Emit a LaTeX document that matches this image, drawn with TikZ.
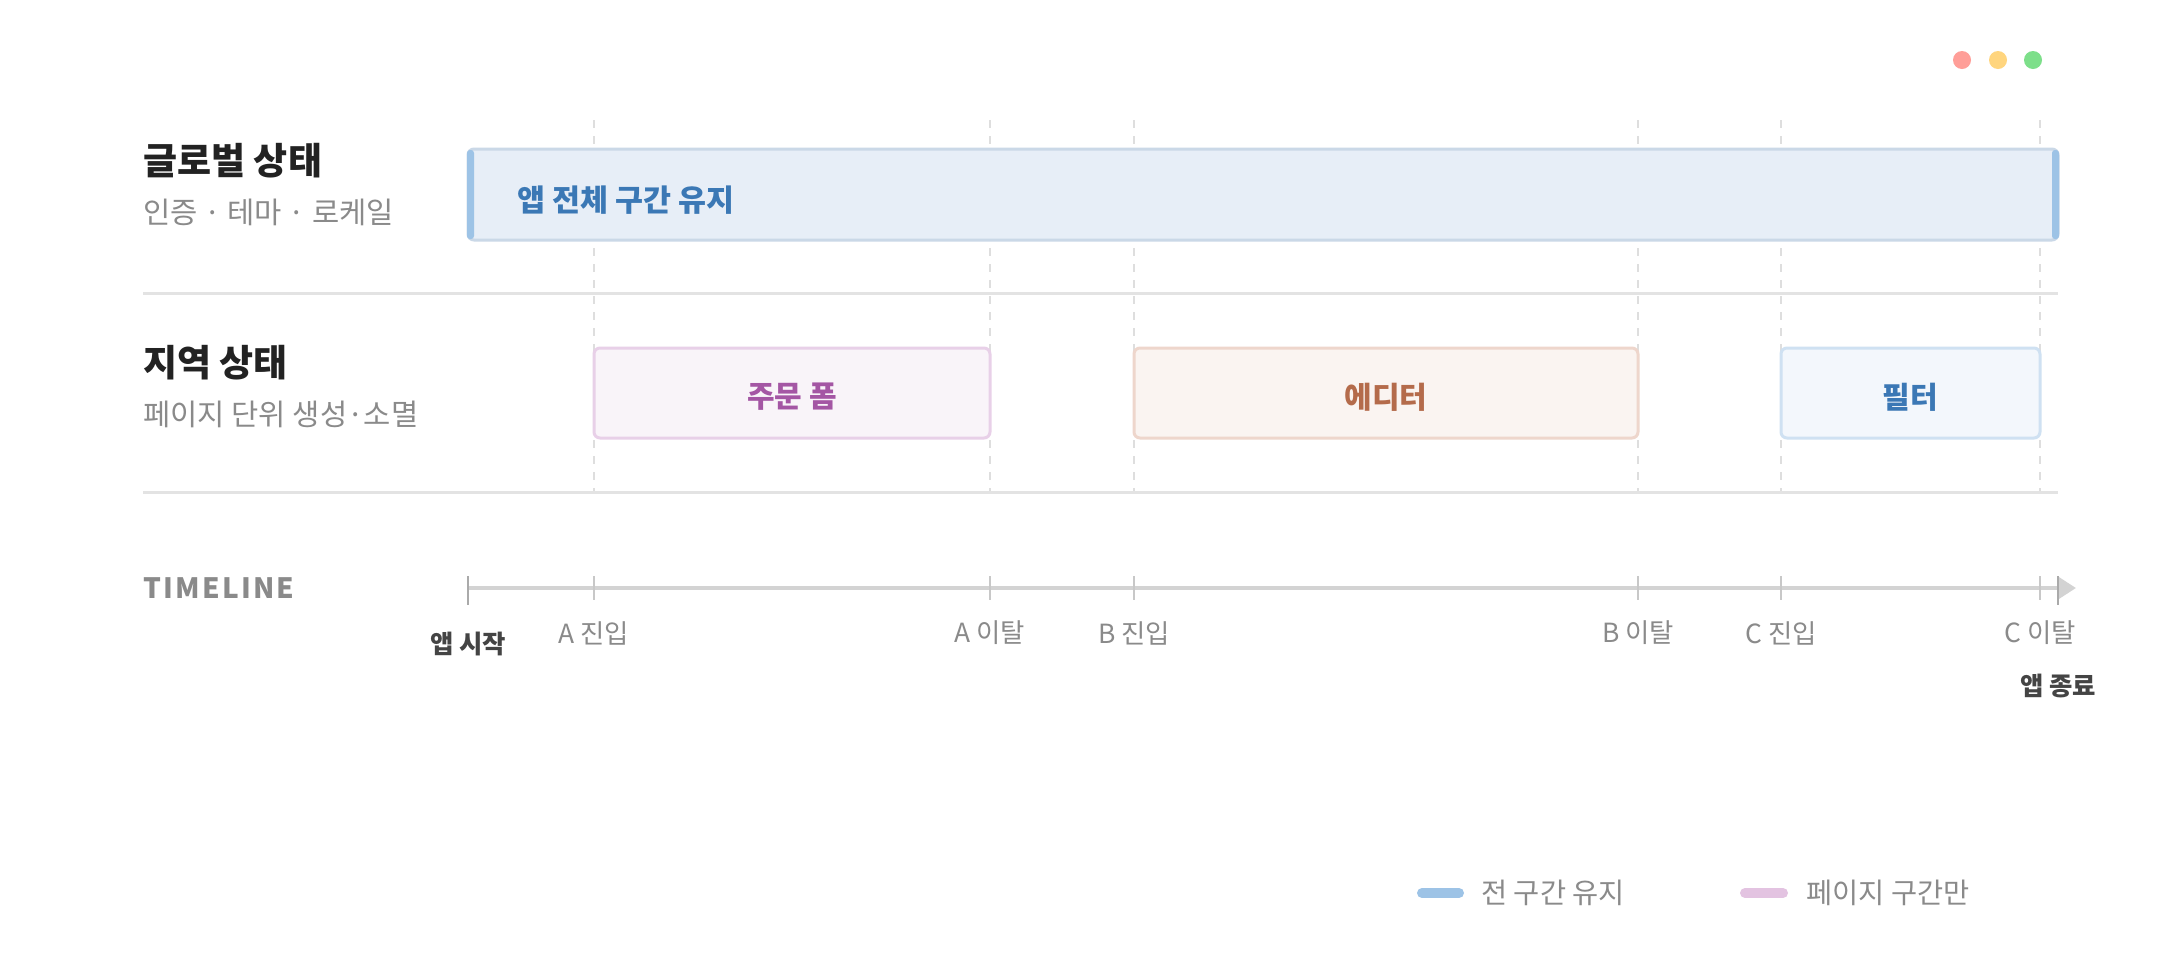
\documentclass[tikz,border=0pt]{standalone}
\usepackage{fontspec}
\setmainfont{Noto Sans CJK KR}
\usetikzlibrary{arrows.meta}
\definecolor{titlec}{HTML}{222222}
\definecolor{subc}{HTML}{8A8A8A}
\definecolor{gfill}{HTML}{E7EEF7}
\definecolor{gborder}{HTML}{CAD8E7}
\definecolor{gaccent}{HTML}{9DC3E6}
\definecolor{gtext}{HTML}{3B78B5}
\definecolor{sepc}{HTML}{E3E3E3}
\definecolor{dashc}{HTML}{DEDEDE}
\definecolor{pfill}{HTML}{F9F4F9}
\definecolor{pborder}{HTML}{E8D0E8}
\definecolor{ptext}{HTML}{A456A4}
\definecolor{efill}{HTML}{FAF4F1}
\definecolor{eborder}{HTML}{EED6CC}
\definecolor{etext}{HTML}{B46B4B}
\definecolor{ffill}{HTML}{F3F7FC}
\definecolor{fborder}{HTML}{CFE1F2}
\definecolor{axisc}{HTML}{D3D3D3}
\definecolor{tickc}{HTML}{C8C8C8}
\definecolor{endtickc}{HTML}{AAAAAA}
\definecolor{darklbl}{HTML}{444444}
\definecolor{dotr}{HTML}{FF9E98}
\definecolor{doty}{HTML}{FFD57E}
\definecolor{dotg}{HTML}{7DDF8A}
\definecolor{legpink}{HTML}{E3C3E1}
\begin{document}
\begin{tikzpicture}[x=0.5pt,y=-0.5pt,
  dot/.style={circle,inner sep=0pt,minimum size=9pt},
  rowtitle/.style={anchor=west,inner sep=0pt,text=titlec,font=\fontsize{18.5pt}{21pt}\selectfont\bfseries},
  rowsub/.style={anchor=west,inner sep=0pt,text=subc,font=\fontsize{14.8pt}{17pt}\selectfont},
  sepline/.style={draw=sepc,line width=1.5pt},
  guide/.style={draw=dashc,line width=1.3pt,dash pattern=on 4pt off 4pt},
  spanbox/.style={rectangle,rounded corners=3pt,line width=1.5pt,inner sep=0pt,
    font=\fontsize{15pt}{17pt}\selectfont\bfseries},
  boxtext/.style={inner sep=0pt,font=\fontsize{15pt}{17pt}\selectfont\bfseries},
  ticklbl/.style={inner sep=0pt,text=subc,font=\fontsize{13.2pt}{15pt}\selectfont},
  endlbl/.style={inner sep=0pt,text=darklbl,font=\fontsize{12.7pt}{15pt}\selectfont\bfseries},
  tickmark/.style={draw=tickc,line width=1pt},
  endtick/.style={draw=endtickc,line width=1.2pt},
  legbar/.style={line width=5pt,line cap=round},
  leglbl/.style={anchor=west,inner sep=0pt,text=subc,font=\fontsize{14.2pt}{16pt}\selectfont}]
\useasboundingbox (0,0) rectangle (2160,960);
\fill[white] (0,0) rectangle (2160,960);

% window dots
\node[dot,fill=dotr] (dr) at (1962,60) {};
\node[dot,fill=doty] (dy) at (1998,60) {};
\node[dot,fill=dotg] (dg) at (2033,60) {};

% guide lines
\foreach \gx in {594,990,1134,1638,1781,2040}
  \draw[guide] (\gx,120) -- (\gx,492);

% row titles
\node[rowtitle] (gtitle) at (143,161) {글로벌 상태};
\node[rowsub] (gsub) at (143,212) {인증 · 테마 · 로케일};
\node[rowtitle] (ltitle) at (143,363) {지역 상태};
\node[rowsub] (lsub) at (143,414) {페이지 단위 생성·소멸};

% separators
\draw[sepline] (143,293) -- (2058,293);
\draw[sepline] (143,492) -- (2058,492);

% global bar
\node[spanbox,draw=gborder,fill=gfill,minimum width=795pt,minimum height=45.5pt] (gbar) at (1263,194.5) {};
\fill[gaccent,rounded corners=1.5pt] (467,150) rectangle (474,239);
\fill[gaccent,rounded corners=1.5pt] (2052,150) rectangle (2059,239);
\node[anchor=west,inner sep=0pt,text=gtext,font=\fontsize{15.2pt}{17pt}\selectfont\bfseries] (glabel) at (517,200) {앱 전체 구간 유지};

% local boxes
\node[spanbox,draw=pborder,fill=pfill,minimum width=198pt,minimum height=45pt] (boxA) at (792,393) {};
\node[boxtext,text=ptext] (boxAt) at (792,397) {주문 폼};
\node[spanbox,draw=eborder,fill=efill,minimum width=252pt,minimum height=45pt] (boxB) at (1386,393) {};
\node[boxtext,text=etext] (boxBt) at (1386,397) {에디터};
\node[spanbox,draw=fborder,fill=ffill,minimum width=129.5pt,minimum height=45pt] (boxC) at (1910.5,393) {};
\node[boxtext,text=gtext] (boxCt) at (1910.5,397) {필터};

% timeline
\node[anchor=west,inner sep=0pt,text=subc,font=\fontsize{14pt}{16pt}\selectfont\bfseries\addfontfeatures{LetterSpace=8}] (tl) at (143,588) {TIMELINE};
\coordinate (t0) at (468,588);
\coordinate (t1) at (2076,588);
\draw[draw=axisc,line width=2pt,-{Triangle[length=9pt,width=11pt,fill=axisc]}] (t0) -- (t1);
\draw[endtick] (468,576) -- (468,605);
\draw[endtick] (2058,576) -- (2058,605);
\foreach \gx in {594,990,1134,1638,1781,2040}
  \draw[tickmark] (\gx,576) -- (\gx,600);

\node[endlbl] (ls) at (468,644) {앱 시작};
\node[ticklbl] (la1) at (594,633) {A 진입};
\node[ticklbl] (la2) at (990,633) {A 이탈};
\node[ticklbl] (lb1) at (1134,633) {B 진입};
\node[ticklbl] (lb2) at (1638,633) {B 이탈};
\node[ticklbl] (lc1) at (1781,633) {C 진입};
\node[ticklbl] (lc2) at (2040,633) {C 이탈};
\node[endlbl] (le) at (2058,686) {앱 종료};

% legend
\coordinate (lg1a) at (1422,893);
\coordinate (lg1b) at (1459,893);
\draw[legbar,draw=gaccent] (lg1a) -- (lg1b);
\node[leglbl] (lg1) at (1481,893) {전 구간 유지};
\coordinate (lg2a) at (1745,893);
\coordinate (lg2b) at (1783,893);
\draw[legbar,draw=legpink] (lg2a) -- (lg2b);
\node[leglbl] (lg2) at (1806,893) {페이지 구간만};
\end{tikzpicture}
\end{document}
